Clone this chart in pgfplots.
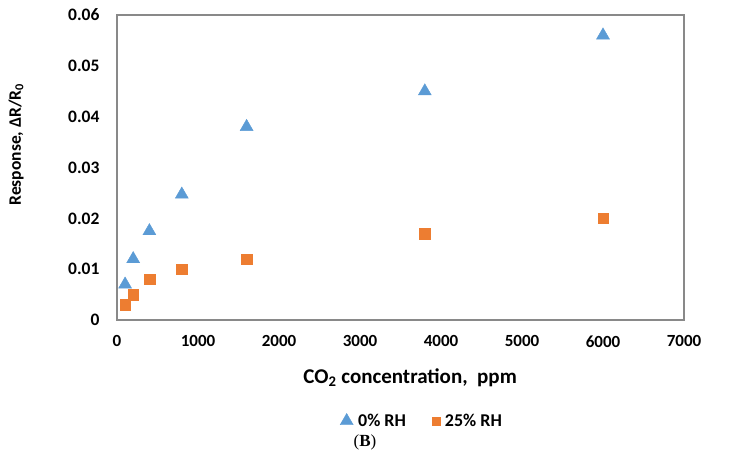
\documentclass[border=0pt]{standalone}
\usepackage{fontspec}
\setmainfont{Carlito}
\newfontfamily\capfont{Liberation Serif}
\usepackage{pgfplots}
\pgfplotsset{compat=1.18}
\definecolor{blueM}{HTML}{5B9BD5}
\definecolor{orangeM}{HTML}{ED7D31}
\definecolor{frameG}{HTML}{898989}
\begin{document}
\begin{tikzpicture}[x=1pt,y=1pt]
\useasboundingbox (0,0) rectangle (730,466);
\begin{axis}[
  at={(117pt,146pt)}, anchor=south west,
  scale only axis, width=567pt, height=305pt,
  xmin=0, xmax=7000, ymin=0, ymax=0.06,
  xtick={0,1000,2000,3000,4000,5000,6000,7000},
  ytick={0,0.01,0.02,0.03,0.04,0.05,0.06},
  major tick length=0pt,
  axis line style={frameG, line width=1.4pt},
  scaled x ticks=false, scaled y ticks=false,
  /pgf/number format/assume math mode=true,
  xticklabel style={/pgf/number format/1000 sep={}, font=\fontsize{17}{19}\selectfont\bfseries, yshift=-12pt},
  yticklabel style={/pgf/number format/fixed, /pgf/number format/precision=2, font=\fontsize{17.5}{19}\selectfont\bfseries, xshift=-14pt},
  xlabel={CO\textsubscript{2} concentration,\ \ ppm},
  ylabel={Response, ΔR/R\textsubscript{0}},
  xlabel style={font=\fontsize{21}{23}\selectfont\bfseries, at={(axis description cs:0.517,-0.207)}, anchor=base},
  ylabel style={font=\fontsize{17.5}{20}\selectfont\bfseries, at={(axis description cs:-0.178,0.575)}, anchor=center},
  legend style={at={(axis description cs:0.538,-0.331)}, anchor=center, draw=none,
    font=\fontsize{18}{20}\selectfont\bfseries, legend columns=2,
    /tikz/every odd column/.append style={column sep=3pt},
    /tikz/every even column/.append style={column sep=24pt}},
  legend cell align=left,
  legend image code/.code={\draw[mark repeat=2, mark phase=2, #1] plot coordinates {(0pt,0pt) (8pt,0pt) (16pt,0pt)};},
]
\addplot[only marks, mark=triangle*, mark size=7.5pt, mark options={fill=blueM, draw=blueM}]
  coordinates {(100,0.007) (200,0.012) (400,0.0175) (800,0.0247) (1600,0.038) (3800,0.045) (6000,0.056)};
\addlegendentry{0\% RH}
\addplot[only marks, mark=square*, mark size=5.3pt, mark options={fill=orangeM, draw=orangeM},
  legend image post style={mark size=4pt}]
  coordinates {(100,0.003) (200,0.005) (400,0.008) (800,0.010) (1600,0.012) (3800,0.017) (6000,0.020)};
\addlegendentry{25\% RH}
\end{axis}
\node[font=\capfont\fontsize{17}{19}\selectfont] at (365,24) {(\textbf{B})};
\end{tikzpicture}
\end{document}
